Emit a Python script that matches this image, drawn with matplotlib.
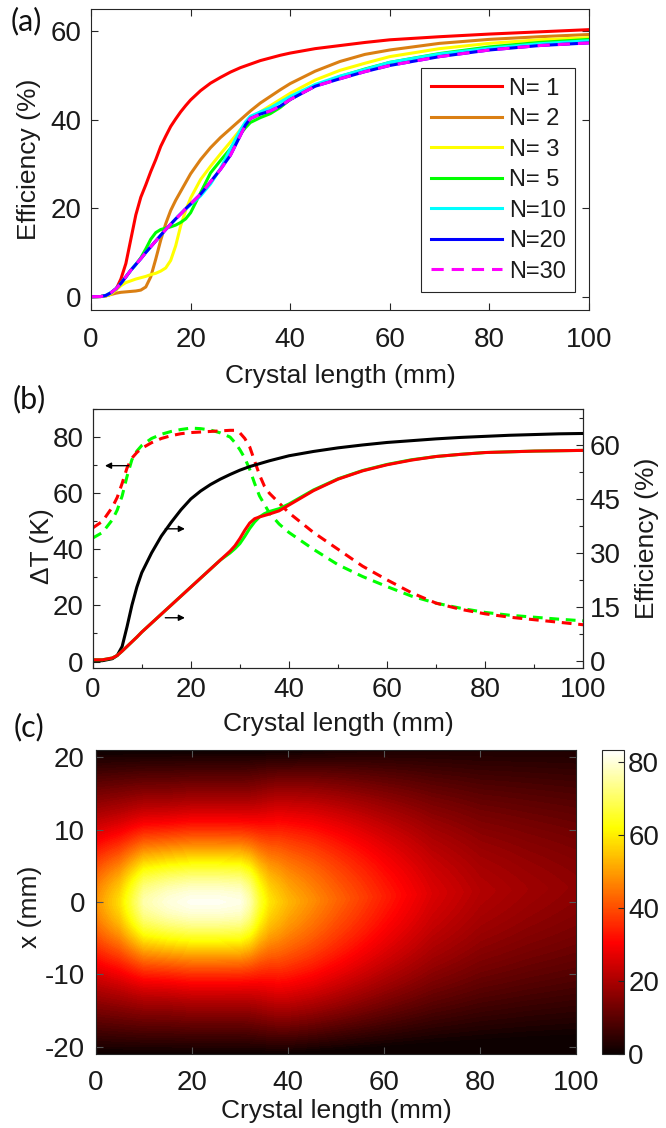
import numpy as np
import matplotlib
matplotlib.use("Agg")
import matplotlib.pyplot as plt
from matplotlib.colors import Normalize
from matplotlib.cm import ScalarMappable
from matplotlib.ticker import MultipleLocator

plt.rcParams['font.family'] = ['Liberation Sans', 'DejaVu Sans']
plt.rcParams['axes.unicode_minus'] = False

# ---------------- panel (a): efficiency vs crystal length ----------------
xa = [0, 2, 3, 4, 5, 6, 7, 8, 9, 10, 11, 12, 13, 14, 15, 16, 17, 18, 19, 20,
      22, 24, 26, 28, 30, 31, 32, 34, 36, 38, 40, 45, 50, 55, 60, 70, 80, 90, 100]
eff_n1 = [0, 0.05, 0.2, 0.6, 1.6, 4, 7.5, 13, 18.5, 22.5, 25.3, 28.3, 31, 34, 36.3, 38.5, 40.2, 41.8, 43.2, 44.5,
          46.6, 48.3, 49.6, 50.8, 51.8, 52.2, 52.6, 53.4, 54, 54.6, 55.1, 56.1, 56.8, 57.5, 58.1, 58.8, 59.4, 59.9, 60.4]
eff_n2 = [0, 0.05, 0.2, 0.5, 0.8, 1.0, 1.1, 1.2, 1.3, 1.5, 2.2, 4.5, 8.5, 12.8, 16.5, 19.5, 21.8, 23.8, 25.8, 27.8,
          31, 33.7, 36, 38, 40, 41, 42, 43.8, 45.3, 46.8, 48.2, 51, 53.2, 54.8, 55.8, 57.3, 58.2, 58.8, 59.3]
eff_n3 = [0, 0.05, 0.2, 0.6, 1.5, 2.5, 3.2, 3.6, 4.0, 4.3, 4.6, 5.0, 5.3, 5.8, 6.5, 8.2, 11.5, 16, 19.5, 22.3,
          26.5, 29.5, 32.3, 35, 37.8, 39.1, 40.2, 41.8, 43.2, 44.6, 46, 49, 51.2, 52.8, 54.3, 56.1, 57.3, 58.1, 58.6]
eff_n5 = [0, 0.05, 0.3, 0.9, 1.8, 3, 4.5, 6, 7.3, 8.8, 10.8, 13, 14.5, 15.2, 15.5, 15.8, 16.2, 16.8, 17.6, 19,
          23.5, 28, 30.8, 33.5, 36.8, 38.2, 39.4, 40.5, 41.4, 42.8, 44.6, 47.7, 49.8, 51.5, 53, 55, 56.5, 57.5, 58.2]
eff_n10 = [0, 0.05, 0.3, 0.9, 1.8, 3, 4.5, 6, 7.3, 8.6, 10, 11.3, 12.6, 13.9, 15.2, 16.4, 17.6, 18.8, 19.8, 20.8,
           22.8, 25.5, 29, 33.5, 37.7, 39.5, 40.8, 41.8, 42.7, 44, 45.3, 48, 49.9, 51.4, 53, 54.9, 56.2, 57.2, 57.9]
eff_n20 = [0, 0.05, 0.3, 0.9, 1.8, 3, 4.5, 6, 7.3, 8.6, 10, 11.3, 12.6, 13.9, 15.2, 16.4, 17.6, 18.7, 19.9, 21,
           23.2, 26, 28.8, 32, 36.5, 38.8, 40.3, 41.3, 42, 43.1, 44.6, 47.6, 49.3, 50.9, 52.3, 54.3, 55.8, 56.8, 57.4]
eff_n30 = [0, 0.05, 0.3, 0.9, 1.8, 3, 4.5, 6, 7.3, 8.6, 10, 11.3, 12.6, 13.9, 15.2, 16.4, 17.6, 18.7, 19.9, 21,
           23.2, 26, 28.8, 32, 36.5, 38.8, 40.3, 41.3, 42, 43.1, 44.6, 47.6, 49.3, 50.9, 52.3, 54.3, 55.8, 56.8, 57.4]
labels_a = ['N= 1', 'N= 2', 'N= 3', 'N= 5', 'N=10', 'N=20', 'N=30']
colors_a = ['#FF0000', '#DA7F13', '#FFFF00', '#00FF00', '#00FFFF', '#0000FF', '#FF00FF']

# ---------------- panel (b): temperature rise and efficiency ----------------
xb = [0, 2, 4, 5, 6, 7, 8, 9, 10, 12, 14, 16, 18, 20, 22, 24, 26, 28, 29, 30,
      31, 32, 33, 34, 35, 36, 38, 40, 45, 50, 55, 60, 65, 70, 75, 80, 85, 90, 95, 100]
eff_black = [0, 0.05, 0.6, 1.5, 4, 9.5, 15.5, 20.5, 24.5, 30, 34.7, 38.5, 42, 45, 47.2, 49, 50.5, 51.8, 52.4, 53,
             53.5, 54, 54.4, 54.8, 55.2, 55.6, 56.3, 57, 58.2, 59.2, 60, 60.7, 61.2, 61.7, 62.1, 62.4, 62.7, 62.9, 63.1, 63.2]
eff_red = [0.3, 0.3, 0.8, 1.5, 2.7, 4, 5.3, 6.6, 8, 10.5, 13, 15.5, 18, 20.5, 23, 25.5, 28, 30.5, 32, 34,
           36.3, 38.3, 39.5, 40, 40.4, 40.8, 41.7, 43.3, 47.3, 50.5, 52.8, 54.5, 55.8, 56.8, 57.4, 57.9, 58.1, 58.3, 58.4, 58.5]
eff_green = [0.3, 0.3, 0.8, 1.5, 2.7, 4, 5.3, 6.6, 8, 10.5, 13, 15.5, 18, 20.5, 23, 25.5, 28, 30, 31.2, 32.6,
             34.6, 36.8, 38.6, 40.0, 40.9, 41.5, 42.3, 43.6, 47.5, 50.6, 52.9, 54.6, 55.9, 56.8, 57.4, 57.9, 58.1, 58.3, 58.4, 58.5]
dT_red = [47.6, 50, 55, 58.5, 63.5, 69, 72.5, 74.5, 76, 78, 79.5, 80.5, 81.2, 81.6, 81.8, 82, 82.2, 82.4, 82.4, 81.5,
          79.5, 76.5, 71.5, 66.5, 62.5, 60, 56.5, 53, 46, 40, 34, 29.1, 24.5, 20.8, 18.6, 17, 15.8, 14.9, 14, 13.1]
dT_green = [44, 46, 50.5, 54, 59, 66, 72, 75, 77, 79.5, 81, 82, 82.7, 83.2, 83, 82.5, 81.5, 80, 78, 75.5,
            72.5, 68.5, 63.5, 59, 56, 53, 49, 46, 40, 34.5, 30.3, 26.7, 23.3, 20.8, 19, 17.5, 16.5, 15.8, 15.1, 14.5]
# arrows: (x_start, x_end, y) in left-axis units
arrow_left = (7.3, 2.5, 69.8)
arrows_right = [(14.8, 18.8, 47.3), (14.8, 18.8, 15.6)]

# ---------------- panel (c): temperature map (K) ----------------
field_z = [0, 5, 10, 15, 20, 25, 30, 32, 34, 36, 38, 40, 45, 50, 60, 70, 80, 90, 100]
field_core = [14, 22, 38, 42, 42, 42, 41, 35, 22, 12, 7, 4, 1, 0, 0, 0, 0, 0, 0]
field_halo = [34, 36, 38, 38, 40, 40, 40, 41, 44, 47, 49, 49, 47, 43, 34, 26, 21, 18.5, 16.5]
halo_shift = [0, 0, 0, 0, 0, 0, 0, 0, 0, 0, 0, 0, 0.2, 0.4, 0.8, 1.2, 1.5, 1.8, 2.0]
CORE_W = 8.2
HALF_WIDTH = 21.0
CUSP = 0.35
T_MAX = 83.3

EDGE = '#262626'
TICK_FS = 20
LABEL_FS = 19

fig = plt.figure(figsize=(6.66, 11.28), dpi=100)
W, H = 666.0, 1128.0


def px_axes(l, t, r, b):
    return [l / W, 1 - b / H, (r - l) / W, (b - t) / H]


def style(ax):
    for s in ax.spines.values():
        s.set_color(EDGE)
        s.set_linewidth(0.8)


# ---------- (a) ----------
ax_a = fig.add_axes(px_axes(91, 9.3, 589, 310))
series_a = [eff_n1, eff_n2, eff_n3, eff_n5, eff_n10, eff_n20, eff_n30]
for ys, lab, col in zip(series_a, labels_a, colors_a):
    if lab == 'N=30':
        ax_a.plot(xa, ys, color=col, lw=2.2, ls=(0, (4, 2.6)), label=lab)
    else:
        ax_a.plot(xa, ys, color=col, lw=2.2, label=lab)
ax_a.set_xlim(0, 100)
ax_a.set_ylim(-3, 65)
ax_a.set_xticks([0, 20, 40, 60, 80, 100])
ax_a.set_yticks([0, 20, 40, 60])
ax_a.tick_params(direction='in', length=5, width=0.8, colors=EDGE, labelcolor='#1a1a1a',
                 labelsize=TICK_FS, top=True, right=True)
ax_a.tick_params(axis='x', pad=12.5)
ax_a.tick_params(axis='y', pad=7)
style(ax_a)
ax_a.set_xlabel('Crystal length (mm)', fontsize=LABEL_FS, color='#1a1a1a')
ax_a.set_ylabel('Efficiency (%)', fontsize=LABEL_FS, color='#1a1a1a')
ax_a.xaxis.set_label_coords(0.5, -0.178)
ax_a.yaxis.set_label_coords(-0.101, 0.5)
leg = ax_a.legend(loc='upper right', bbox_to_anchor=(0.972, 0.804), borderaxespad=0,
                  fontsize=17, handlelength=3.0, handletextpad=0.3, labelspacing=0.36,
                  borderpad=0.4, fancybox=False, framealpha=1, edgecolor=EDGE)
leg.get_frame().set_linewidth(0.8)
for t in leg.get_texts():
    t.set_color('#1a1a1a')

# ---------- (b) ----------
ax_b = fig.add_axes(px_axes(92.7, 409, 583.3, 667.7))
ax_b2 = ax_b.twinx()
ax_b.plot(xb, dT_green, color='#00FF00', lw=2.2, ls=(0, (3.2, 2.2)))
ax_b.plot(xb, dT_red, color='#FF0000', lw=2.2, ls=(0, (3.2, 2.2)))
ax_b2.plot(xb, eff_black, color='black', lw=2.2)
ax_b2.plot(xb, eff_green, color='#00FF00', lw=2.2)
ax_b2.plot(xb, eff_red, color='#FF0000', lw=2.2)
ax_b.set_xlim(0, 100)
ax_b.set_ylim(-2.2, 90)
ax_b2.set_ylim(-1.9, 70)
ax_b.set_xticks([0, 20, 40, 60, 80, 100])
ax_b.xaxis.set_minor_locator(MultipleLocator(10))
ax_b.set_yticks([0, 20, 40, 60, 80])
ax_b.yaxis.set_minor_locator(MultipleLocator(10))
ax_b2.set_yticks([0, 15, 30, 45, 60])
ax_b2.yaxis.set_minor_locator(MultipleLocator(7.5))
for a in (ax_b, ax_b2):
    a.tick_params(which='major', direction='in', length=5, width=0.8, colors=EDGE,
                  labelcolor='#1a1a1a', labelsize=TICK_FS)
    a.tick_params(which='minor', direction='in', length=3, width=0.8, colors=EDGE)
    style(a)
ax_b.tick_params(axis='x', which='both', pad=6.5, top=False)
ax_b.tick_params(axis='y', which='both', pad=6.5, right=False)
ax_b2.tick_params(axis='y', which='both', pad=4.5)
ax_b.set_xlabel('Crystal length (mm)', fontsize=LABEL_FS, color='#1a1a1a')
ax_b.set_ylabel('ΔT (K)', fontsize=LABEL_FS, color='#1a1a1a')
ax_b2.set_ylabel('Efficiency (%)', fontsize=LABEL_FS, color='#1a1a1a')
ax_b.xaxis.set_label_coords(0.5, -0.171)
ax_b.yaxis.set_label_coords(-0.078, 0.47)
ax_b2.yaxis.set_label_coords(1.105, 0.5)
arrow_kw = dict(arrowstyle='-|>', color='black', lw=1.0, mutation_scale=9,
                shrinkA=0, shrinkB=0)
ax_b.annotate('', xy=(arrow_left[1], arrow_left[2]), xytext=(arrow_left[0], arrow_left[2]),
              arrowprops=arrow_kw, zorder=5)
for x0, x1, yv in arrows_right:
    ax_b.annotate('', xy=(x1, yv), xytext=(x0, yv), arrowprops=arrow_kw, zorder=5)

# ---------- (c) ----------
ax_c = fig.add_axes(px_axes(96, 750, 576, 1054))
zf = np.linspace(0, 100, 401)
xf = np.linspace(-HALF_WIDTH, HALF_WIDTH, 211)
Zg, Xg = np.meshgrid(zf, xf)
core = np.interp(zf, field_z, field_core)[None, :]
halo = np.interp(zf, field_z, field_halo)[None, :]
shift = np.interp(zf, field_z, halo_shift)[None, :]
u = np.clip(np.abs(Xg - shift) / HALF_WIDTH, 0, 1)
halo_prof = (1 - CUSP) * np.cos(np.pi * u / 2) + CUSP * (1 - u)
core_prof = np.exp(-(Xg / CORE_W) ** 2)
Tmap = halo * halo_prof + core * core_prof
norm = Normalize(0, T_MAX)
ax_c.contourf(Zg, Xg, Tmap, levels=np.linspace(0, T_MAX, 100), cmap='hot', norm=norm)
ax_c.set_xlim(0, 100)
ax_c.set_ylim(-21, 21)
ax_c.set_xticks([0, 20, 40, 60, 80, 100])
ax_c.set_yticks([-20, -10, 0, 10, 20])
ax_c.tick_params(direction='in', length=5, width=0.8, colors='#555555', labelcolor='#1a1a1a',
                 labelsize=TICK_FS, top=True, right=True)
ax_c.tick_params(axis='x', pad=11.5)
ax_c.tick_params(axis='y', pad=8)
style(ax_c)
ax_c.set_xlabel('Crystal length (mm)', fontsize=LABEL_FS, color='#1a1a1a')
ax_c.set_ylabel('x (mm)', fontsize=LABEL_FS, color='#1a1a1a')
ax_c.xaxis.set_label_coords(0.5, -0.148)
ax_c.yaxis.set_label_coords(-0.1135, 0.484)

cax = fig.add_axes(px_axes(602, 750, 624, 1054))
cb = fig.colorbar(ScalarMappable(norm=norm, cmap='hot'), cax=cax, ticks=[0, 20, 40, 60, 80])
cb.ax.tick_params(direction='in', length=4, width=0.8, colors=EDGE, labelcolor='#1a1a1a',
                  labelsize=TICK_FS, pad=3)
cb.outline.set_edgecolor(EDGE)
cb.outline.set_linewidth(0.8)

# panel letters
for txt, xp, yp in [('(a)', 11, 7), ('(b)', 13, 385), ('(c)', 14, 713)]:
    fig.text(xp / W, 1 - yp / H, txt, ha='left', va='top', fontsize=22,
             family=['Lato', 'DejaVu Sans'], color='#111111')

fig.savefig('out.png', dpi=100)
